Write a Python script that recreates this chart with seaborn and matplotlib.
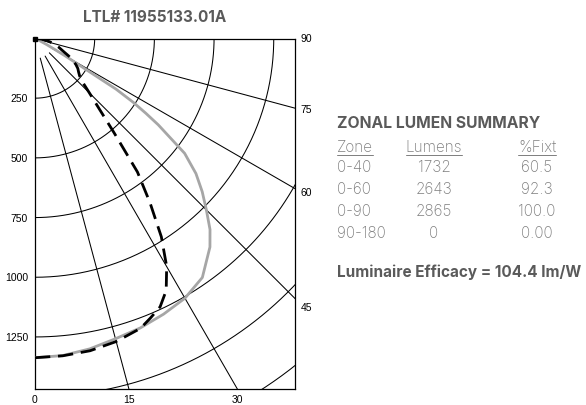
import numpy as np
import pandas as pd
import matplotlib
matplotlib.use("Agg")
import matplotlib.pyplot as plt
import seaborn as sns

# Candela distribution, vertical angle from nadir (deg) -> intensity (cd)
angles_solid = [0, 5, 10, 15, 20, 25, 30, 35, 40, 42.5, 45, 47.5, 50, 52.5,
                55, 56, 57, 58, 59, 60, 61, 62.5, 65, 70, 80, 90]
cd_solid = [1337, 1333, 1320, 1302, 1290, 1274, 1256, 1222, 1140, 1085, 1015,
            950, 880, 790, 630, 560, 490, 400, 215, 150, 95, 55, 20, 8, 2, 0]

angles_dashed = [0, 5, 10, 15, 20, 22.5, 25, 27.5, 30, 32.5, 35, 37.5, 40,
                 42.5, 45, 47.5, 50, 52.5, 55, 57.5, 60, 62.5, 65, 70, 75, 80,
                 85, 90]
cd_dashed = [1337, 1334, 1328, 1314, 1292, 1266, 1240, 1190, 1103, 985, 840,
             705, 515, 395, 322, 270, 244, 230, 219, 203, 183, 160, 135, 105,
             78, 52, 27, 0]

# Grid definition
ring_values = [250, 500, 750, 1000, 1250, 1500, 1750]
ray_angles = [15, 30, 45, 60, 75]
left_labels = [250, 500, 750, 1000, 1250]
bottom_labels = [0, 15, 30]
right_labels = [90, 75, 60, 45]

# Zonal lumen summary
zones = ["0-40", "0-60", "0-90", "90-180"]
lumens = ["1732", "2643", "2865", "0"]
pct_fixt = ["60.5", "92.3", "100.0", "0.00"]
headers = ["Zone", "Lumens", "%Fixt"]
title = "LTL# 11955133.01A"
efficacy = "Luminaire Efficacy = 104.4 lm/W"

XMAX, YMAX = 1089, 1468
W, H = 586, 405


def to_xy(ang, cd, label):
    a = np.radians(np.asarray(ang, dtype=float))
    r = np.asarray(cd, dtype=float)
    return pd.DataFrame({"x": r * np.sin(a), "y": r * np.cos(a),
                         "plane": label})


def fx(px):
    return px / W


def fy(py):
    return 1 - py / H


sns.set_theme(style="white")
plt.rcParams["font.family"] = ["Liberation Sans", "DejaVu Sans"]

fig = plt.figure(figsize=(W / 100, H / 100), dpi=100)
ax = fig.add_axes([fx(35), 16 / H, 260 / W, 350.5 / H])
ax.set_xlim(0, XMAX)
ax.set_ylim(YMAX, 0)

# concentric candela rings
t = np.linspace(0, np.pi / 2, 200)
for rv in ring_values:
    ax.plot(rv * np.sin(t), rv * np.cos(t), color="black", lw=0.75,
            zorder=1)

# radial angle lines
for ang in ray_angles:
    a = np.radians(ang)
    r0 = 0 if ang == 75 else 85
    ax.plot([r0 * np.sin(a), 4000 * np.sin(a)],
            [r0 * np.cos(a), 4000 * np.cos(a)], color="black", lw=0.75,
            zorder=1)

solid = to_xy(angles_solid, cd_solid, "solid")
dashed = to_xy(angles_dashed, cd_dashed, "dashed")
sns.lineplot(data=solid, x="x", y="y", sort=False, estimator=None,
             color="#a6a6a6", lw=2.0, ax=ax, zorder=3)
sns.lineplot(data=dashed, x="x", y="y", sort=False, estimator=None,
             color="black", lw=2.0, ax=ax, zorder=4)
ax.lines[-1].set_linestyle((0, (5.5, 2.8)))
ax.plot([0], [0], marker="s", ms=2.5, color="black", clip_on=False,
        zorder=5)

ax.set_xlabel("")
ax.set_ylabel("")
for s in ax.spines.values():
    s.set_visible(True)
    s.set_color("black")
    s.set_linewidth(0.9)
ax.grid(False)

ax.set_yticks(left_labels)
ax.set_yticklabels([str(v) for v in left_labels])
ax.set_xticks([YMAX * np.tan(np.radians(v)) for v in bottom_labels])
ax.set_xticklabels([str(v) for v in bottom_labels])
ax.tick_params(axis="both", length=0, labelsize=7.5, colors="black")
ax.tick_params(axis="y", pad=5)
ax.tick_params(axis="x", pad=4)

# angle labels where the rays meet the right edge
right_offsets = {90: 0, 75: -1.5, 60: -3.5, 45: -6.5}
for v in right_labels:
    yv = 0 if v == 90 else XMAX / np.tan(np.radians(v))
    ax.annotate(str(v), xy=(XMAX, yv), xytext=(4, right_offsets[v]),
                textcoords="offset points", ha="left", va="center",
                fontsize=7.5, color="black", annotation_clip=False)

# header
fig.text(fx(155), fy(18), title, ha="center", va="center",
         fontsize=11, fontweight="bold", color="#5a5a5a", family="Inter")

# zonal lumen summary table
TX = 337
txt_kw = dict(va="center", fontsize=11, color="#7d7d7d", family="Inter",
              fontweight="light")
fig.text(fx(TX), fy(123), "ZONAL LUMEN SUMMARY", ha="left", va="center",
         fontsize=11.3, fontweight="bold", color="#5a5a5a", family="Inter")

col_x = [(TX, "left"), (434, "center"), (537, "center")]
row_y = [147, 168, 190, 212, 233]

fig.canvas.draw()
renderer = fig.canvas.get_renderer()
for (cx, ha), head in zip(col_x, headers):
    tt = fig.text(fx(cx), fy(row_y[0]), head, ha=ha, **txt_kw)
    bb = tt.get_window_extent(renderer=renderer)
    yline = fy(row_y[0] + 8)
    fig.add_artist(plt.Line2D([bb.x0 / W, bb.x1 / W], [yline, yline],
                              color="#7d7d7d", lw=0.7))

for i in range(len(zones)):
    y = fy(row_y[i + 1])
    fig.text(fx(col_x[0][0]), y, zones[i], ha="left", **txt_kw)
    fig.text(fx(col_x[1][0]), y, lumens[i], ha="center", **txt_kw)
    fig.text(fx(col_x[2][0]), y, pct_fixt[i], ha="center", **txt_kw)

fig.text(fx(TX), fy(272), efficacy, ha="left", va="center",
         fontsize=11, fontweight="bold", color="#5a5a5a", family="Inter")

fig.savefig("out.png", dpi=100, facecolor="white")
